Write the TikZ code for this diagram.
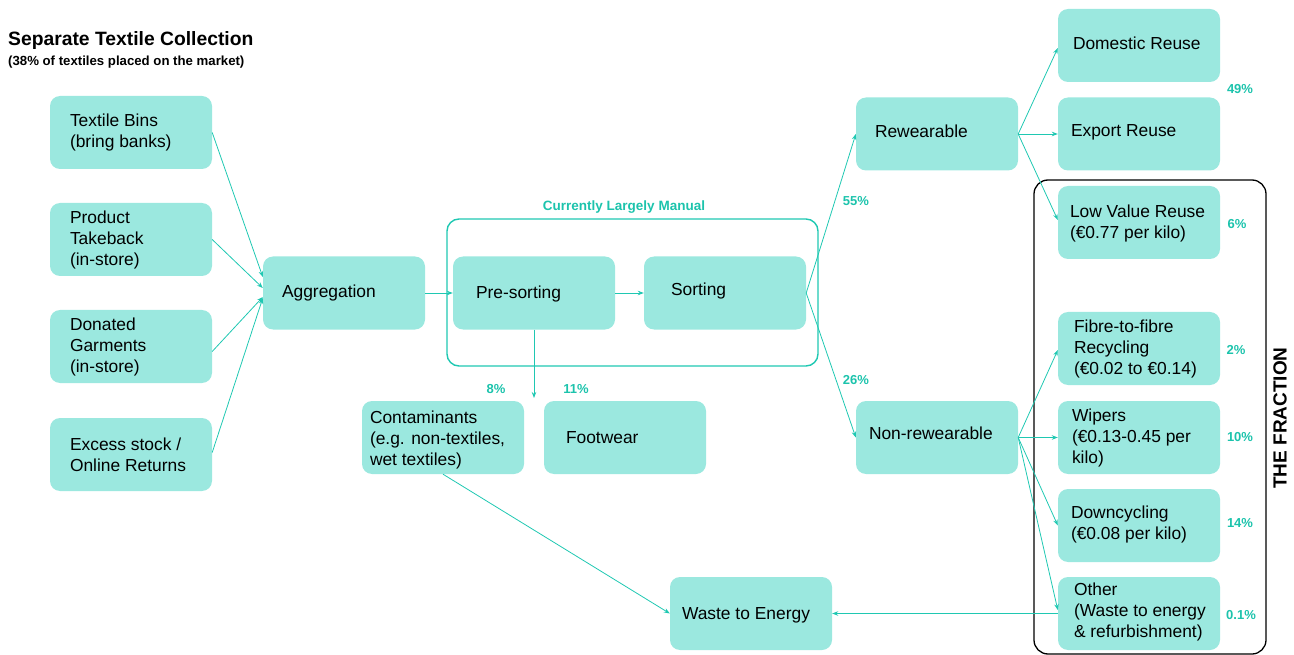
\documentclass[tikz,border=0pt]{standalone}
\usepackage{fontspec}
\setmainfont{Liberation Sans}
\usetikzlibrary{arrows.meta}
\definecolor{boxfill}{HTML}{9BE8DF}
\definecolor{teal}{HTML}{1FC8B2}
\definecolor{tealtext}{HTML}{1CC3AC}
\tikzset{
  box/.style={draw=none, fill=boxfill, rounded corners=10pt, minimum width=162pt, minimum height=73pt, inner sep=0pt},
  txt/.style={anchor=west, align=left, inner sep=0pt, font=\fontsize{17.4}{21}\selectfont},
  pct/.style={text=tealtext, inner sep=0pt, font=\bfseries\fontsize{13}{15}\selectfont},
  arr/.style={draw=teal, line width=0.8pt, -{Stealth[length=6pt,width=4.5pt]}},
}
\begin{document}
\begin{tikzpicture}[x=1pt,y=-1pt]
\useasboundingbox (0,0) rectangle (1294,655);
% title
\node[anchor=west, inner sep=0pt, font=\bfseries\fontsize{19.3}{23}\selectfont] (title) at (8,41) {Separate Textile Collection};
\node[anchor=west, inner sep=0pt, font=\bfseries\fontsize{13.2}{15}\selectfont] (subtitle) at (8,62) {(38\% of textiles placed on the market)};
% container
\draw[teal, line width=1.4pt, rounded corners=12pt] (447,219) rectangle (818,366);
\node[text=tealtext, inner sep=0pt, font=\bfseries\fontsize{13.5}{15}\selectfont] (manual) at (624,207) {Currently Largely Manual};
% fraction box
\draw[black, line width=1.3pt, rounded corners=14pt] (1034,180) rectangle (1266,654);
\node[rotate=90, inner sep=0pt, font=\bfseries\fontsize{19}{21}\selectfont] (fraction) at (1280,418) {THE FRACTION};
% boxes
\node[box] (tb) at (131,132.5) {};
\node[txt] (tbt) at ([xshift=20]tb.west) {Textile Bins\\(bring banks)};
\node[box] (pt) at (131,239.5) {};
\node[txt] (ptt) at ([xshift=20]pt.west) {Product\\Takeback\\(in-store)};
\node[box] (dg) at (131,346.5) {};
\node[txt] (dgt) at ([xshift=20]dg.west) {Donated\\Garments\\(in-store)};
\node[box] (es) at (131,454.5) {};
\node[txt] (est) at ([xshift=20]es.west) {Excess stock /\\Online Returns};
\node[box] (ag) at (344,293) {};
\node[txt] (agt) at ([xshift=19]ag.west) {Aggregation};
\node[box] (ps) at (534,293) {};
\node[txt] (pst) at ([xshift=23,yshift=-1]ps.west) {Pre-sorting};
\node[box] (so) at (725,293) {};
\node[txt] (sot) at ([xshift=27,yshift=2]so.west) {Sorting};
\node[box] (ct) at (443,437.5) {};
\node[txt] (ctt) at ([xshift=8,yshift=-2]ct.west) {Contaminants\\(e.g. non-textiles,\\wet textiles)};
\node[box] (fw) at (625,437.5) {};
\node[txt] (fwt) at ([xshift=22]fw.west) {Footwear};
\node[box] (we) at (751,613.5) {};
\node[txt] (wet) at ([xshift=12,yshift=-2]we.west) {Waste to Energy};
\node[box] (rw) at (937,134) {};
\node[txt] (rwt) at ([xshift=19,yshift=3]rw.west) {Rewearable};
\node[box] (nr) at (937,437.5) {};
\node[txt] (nrt) at ([xshift=13,yshift=4]nr.west) {Non-rewearable};
\node[box] (dr) at (1139,45.5) {};
\node[txt] (drt) at ([xshift=15,yshift=2]dr.west) {Domestic Reuse};
\node[box] (er) at (1139,134) {};
\node[txt] (ert) at ([xshift=13,yshift=2]er.west) {Export Reuse};
\node[box] (lv) at (1139,222.5) {};
\node[txt] (lvt) at ([xshift=12,yshift=-1]lv.west) {Low Value Reuse\\(€0.77 per kilo)};
\node[box] (ff) at (1139,348.5) {};
\node[txt] (fft) at ([xshift=16]ff.west) {Fibre-to-fibre\\Recycling\\(€0.02 to €0.14)};
\node[box] (wp) at (1139,437.5) {};
\node[txt] (wpt) at ([xshift=14]wp.west) {Wipers\\(€0.13-0.45 per\\kilo)};
\node[box] (dc) at (1139,525.5) {};
\node[txt] (dct) at ([xshift=13,yshift=1]dc.west) {Downcycling\\(€0.08 per kilo)};
\node[box] (ot) at (1139,613.5) {};
\node[txt] (ott) at ([xshift=16,yshift=1.5]ot.west) {Other\\(Waste to energy\\\& refurbishment)};
% percentages
\node[pct] (p49) at (1240,89) {49\%};
\node[pct] (p6) at (1237,224) {6\%};
\node[pct] (p2) at (1236,350) {2\%};
\node[pct] (p10) at (1240,437) {10\%};
\node[pct] (p14) at (1240,523) {14\%};
\node[pct] (p01) at (1241,615) {0.1\%};
\node[pct] (p55) at (856,201) {55\%};
\node[pct] (p26) at (856,380) {26\%};
\node[pct] (p8) at (496,389) {8\%};
\node[pct] (p11) at (576,389) {11\%};
% connectors
\draw[arr] (tb.east) -- ([yshift=16]ag.west);
\draw[arr] (pt.east) -- ([yshift=5]ag.west);
\draw[arr] ([yshift=-5]dg.east) -- ([yshift=-4]ag.west);
\draw[arr] ([yshift=2]es.east) -- ([yshift=-5]ag.west);
\draw[arr] (ag.east) -- (ps.west);
\draw[arr] (ps.east) -- (so.west);
\coordinate (psdown) at (534,398);
\draw[arr] (ps.south) -- (psdown);
\draw[arr] (so.east) -- (rw.west);
\draw[arr] (so.east) -- (nr.west);
\draw[arr] (rw.east) -- ([yshift=-2.5]dr.west);
\draw[arr] (rw.east) -- (er.west);
\draw[arr] (rw.east) -- ([yshift=2.5]lv.west);
\draw[arr] (nr.east) -- ([yshift=-1.5]ff.west);
\draw[arr] (nr.east) -- (wp.west);
\draw[arr] (nr.east) -- (dc.west);
\draw[arr] (nr.east) -- ([yshift=3.5]ot.west);
\draw[arr] (ct.south) -- (we.west);
\draw[arr] (ot.west) -- (we.east);
\end{tikzpicture}
\end{document}
